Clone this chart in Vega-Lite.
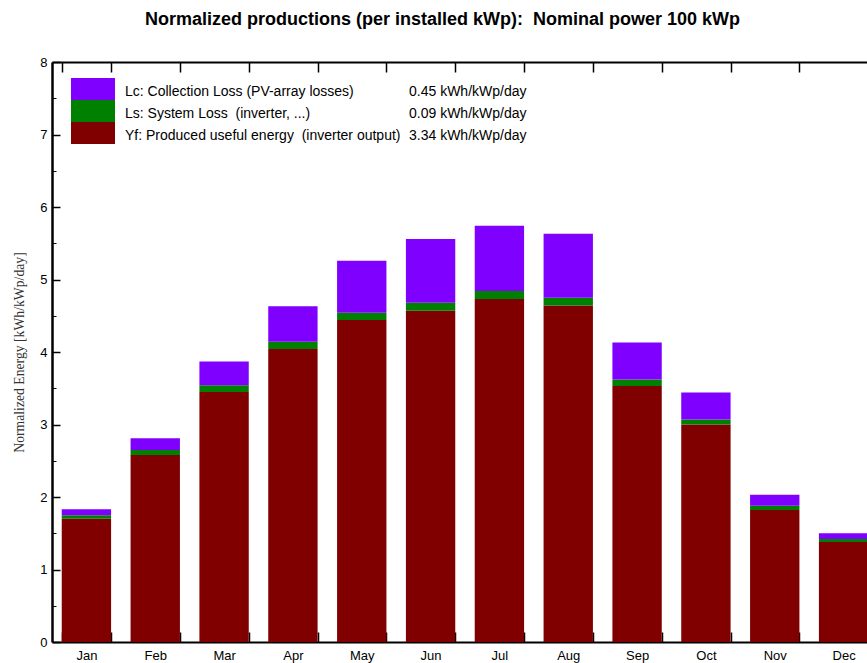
{
  "$schema": "https://vega.github.io/schema/vega-lite/v6.json",
  "width": 815,
  "height": 580,
  "autosize": {"type": "none"},
  "padding": {"left": 52, "top": 62, "right": 0, "bottom": 21},
  "background": "white",
  "title": {
    "text": "Normalized productions (per installed kWp):\u00a0 Nominal power 100 kWp",
    "font": "Liberation Sans",
    "fontSize": 18,
    "fontWeight": "bold",
    "color": "black",
    "anchor": "middle",
    "dx": -17,
    "offset": 27
  },
  "config": {"view": {"stroke": null}},
  "datasets": {
    "prod": [
      {"month": "Jan", "component": "Yf", "value": 1.70},
      {"month": "Jan", "component": "Ls", "value": 0.05},
      {"month": "Jan", "component": "Lc", "value": 0.08},
      {"month": "Feb", "component": "Yf", "value": 2.58},
      {"month": "Feb", "component": "Ls", "value": 0.07},
      {"month": "Feb", "component": "Lc", "value": 0.16},
      {"month": "Mar", "component": "Yf", "value": 3.45},
      {"month": "Mar", "component": "Ls", "value": 0.09},
      {"month": "Mar", "component": "Lc", "value": 0.33},
      {"month": "Apr", "component": "Yf", "value": 4.04},
      {"month": "Apr", "component": "Ls", "value": 0.10},
      {"month": "Apr", "component": "Lc", "value": 0.49},
      {"month": "May", "component": "Yf", "value": 4.44},
      {"month": "May", "component": "Ls", "value": 0.10},
      {"month": "May", "component": "Lc", "value": 0.72},
      {"month": "Jun", "component": "Yf", "value": 4.57},
      {"month": "Jun", "component": "Ls", "value": 0.11},
      {"month": "Jun", "component": "Lc", "value": 0.88},
      {"month": "Jul", "component": "Yf", "value": 4.73},
      {"month": "Jul", "component": "Ls", "value": 0.11},
      {"month": "Jul", "component": "Lc", "value": 0.90},
      {"month": "Aug", "component": "Yf", "value": 4.64},
      {"month": "Aug", "component": "Ls", "value": 0.11},
      {"month": "Aug", "component": "Lc", "value": 0.88},
      {"month": "Sep", "component": "Yf", "value": 3.53},
      {"month": "Sep", "component": "Ls", "value": 0.09},
      {"month": "Sep", "component": "Lc", "value": 0.51},
      {"month": "Oct", "component": "Yf", "value": 3.00},
      {"month": "Oct", "component": "Ls", "value": 0.07},
      {"month": "Oct", "component": "Lc", "value": 0.37},
      {"month": "Nov", "component": "Yf", "value": 1.82},
      {"month": "Nov", "component": "Ls", "value": 0.06},
      {"month": "Nov", "component": "Lc", "value": 0.15},
      {"month": "Dec", "component": "Yf", "value": 1.38},
      {"month": "Dec", "component": "Ls", "value": 0.04},
      {"month": "Dec", "component": "Lc", "value": 0.08}
    ],
    "avg": [
      {"item": "Lc: Collection Loss (PV-array losses)", "avg": "0.45 kWh/kWp/day"},
      {"item": "Ls: System Loss \u00a0(inverter, ...)", "avg": "0.09 kWh/kWp/day"},
      {"item": "Yf: Produced useful energy \u00a0(inverter output)", "avg": "3.34 kWh/kWp/day"}
    ]
  },
  "layer": [
    {
      "data": {"name": "prod"},
      "mark": {"type": "bar"},
      "encoding": {
        "x": {
          "field": "month",
          "type": "ordinal",
          "sort": ["Jan", "Feb", "Mar", "Apr", "May", "Jun", "Jul", "Aug", "Sep", "Oct", "Nov", "Dec"],
          "scale": {"range": [0, 826], "paddingInner": 0.283, "paddingOuter": 0.1415},
          "axis": {
            "orient": "bottom",
            "title": null,
            "domain": true,
            "domainColor": "black",
            "domainWidth": 2,
            "ticks": true,
            "tickBand": "extent",
            "tickSize": -10,
            "tickColor": "black",
            "tickWidth": 1.5,
            "labelFont": "Liberation Sans",
            "labelFontSize": 13,
            "labelColor": "black",
            "labelPadding": 17,
            "labelAngle": 0,
            "grid": false
          }
        },
        "y": {
          "field": "value",
          "type": "quantitative",
          "stack": "zero",
          "scale": {"domain": [0, 8], "nice": false},
          "axis": {
            "orient": "left",
            "title": "Normalized Energy [kWh/kWp/day]",
            "titleFont": "Liberation Serif",
            "titleFontSize": 13.7,
            "titleFontWeight": "normal",
            "titleColor": "#333333",
            "titlePadding": 13,
            "values": [0, 1, 2, 3, 4, 5, 6, 7, 8],
            "domain": true,
            "domainColor": "black",
            "domainWidth": 2.5,
            "tickSize": -8,
            "tickColor": "black",
            "tickWidth": 1.5,
            "labelFont": "Liberation Sans",
            "labelFontSize": 13,
            "labelColor": "black",
            "labelPadding": 13,
            "grid": false
          }
        },
        "color": {
          "field": "component",
          "type": "nominal",
          "scale": {"domain": ["Lc", "Ls", "Yf"], "range": ["#8000ff", "#008000", "#800000"]},
          "legend": {
            "orient": "none",
            "legendX": 19,
            "legendY": 16,
            "title": null,
            "direction": "vertical",
            "symbolType": "M-1,-0.5H1V0.5H-1Z",
            "symbolSize": 1936,
            "symbolStrokeWidth": 0,
            "symbolOpacity": 1,
            "clipHeight": 22,
            "rowPadding": 0,
            "padding": 0,
            "labelOffset": 0,
            "labelExpr": "''"
          }
        },
        "order": {"field": "component", "sort": "descending"}
      }
    },
    {
      "data": {"name": "prod"},
      "mark": {"type": "point", "opacity": 0},
      "encoding": {
        "x": {
          "field": "month",
          "type": "ordinal",
          "sort": ["Jan", "Feb", "Mar", "Apr", "May", "Jun", "Jul", "Aug", "Sep", "Oct", "Nov", "Dec"],
          "axis": {
            "orient": "top",
            "title": null,
            "labels": false,
            "domain": true,
            "domainColor": "black",
            "domainWidth": 2,
            "ticks": true,
            "tickBand": "extent",
            "tickSize": -10,
            "tickColor": "black",
            "tickWidth": 1.5,
            "grid": false
          }
        },
        "y": {
          "field": "value",
          "type": "quantitative",
          "axis": {
            "orient": "left",
            "title": null,
            "labels": false,
            "domain": false,
            "values": [0.5, 1.5, 2.5, 3.5, 4.5, 5.5, 6.5, 7.5],
            "tickSize": -4,
            "tickColor": "black",
            "tickWidth": 1,
            "grid": false
          }
        }
      }
    },
    {
      "data": {"name": "avg"},
      "mark": {"type": "point", "opacity": 0},
      "encoding": {
        "strokeDash": {
          "field": "item",
          "type": "nominal",
          "legend": {
            "orient": "none",
            "legendX": 59,
            "legendY": 19,
            "title": null,
            "direction": "vertical",
            "symbolType": "circle",
            "symbolSize": 1,
            "symbolOpacity": 0,
            "symbolStrokeWidth": 0,
            "clipHeight": 22,
            "rowPadding": 0,
            "padding": 0,
            "labelOffset": 0,
            "labelFont": "Liberation Sans",
            "labelFontSize": 14,
            "labelColor": "black",
            "labelLimit": 400
          }
        },
        "shape": {
          "field": "avg",
          "type": "nominal",
          "scale": {"domain": ["0.45 kWh/kWp/day", "0.09 kWh/kWp/day", "3.34 kWh/kWp/day"]},
          "legend": {
            "orient": "none",
            "legendX": 343,
            "legendY": 19,
            "title": null,
            "direction": "vertical",
            "symbolSize": 1,
            "symbolOpacity": 0,
            "symbolStrokeWidth": 0,
            "clipHeight": 22,
            "rowPadding": 0,
            "padding": 0,
            "labelOffset": 0,
            "labelFont": "Liberation Sans",
            "labelFontSize": 14,
            "labelColor": "black",
            "labelLimit": 300
          }
        }
      }
    }
  ],
  "resolve": {"axis": {"x": "independent", "y": "independent"}}
}
